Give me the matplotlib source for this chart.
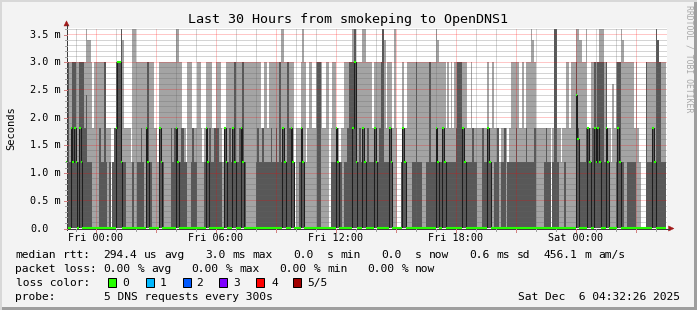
import re
import matplotlib
matplotlib.use("Agg")
import matplotlib.pyplot as plt
import numpy as np
from matplotlib.patches import Rectangle, Polygon
from matplotlib.lines import Line2D

W, H, DPI = 697, 310, 100

# ------------------------------------------------------------------ data
# smoke levels (milliseconds), one char per 5-minute step
LEVELS_MS = {"0": 0.0, "1": 1.2, "2": 1.8, "3": 3.0, "4": 3.4, "5": 3.6,
             "6": 2.4, "7": 2.6}

# upper edge of the dark (inner) smoke band
SMOKE_INNER = "".join([
    "3312331133", "3261110000", "2113101012", "3335110000", "1001121023", "1100002110",
    "0002122112", "2110012110", "0001212112", "2211021121", "2311223100", "0000121121",
    "1112112131", "2113211000", "1210000000", "0330000001", "1121110112", "3335112121",
    "1211121123", "5111210000", "0121000011", "3111001131", "1121112111", "1111233321",
    "1111211000", "2112100112", "0112011111", "2111112111", "1200000121", "1015510001",
    "0000003211", "1122112313", "3331310000", "1331100111", "1100000031", "1121543111",
])
# upper edge of the light (outer) smoke band
SMOKE_OUTER = "".join([
    "3333333333", "3354432333", "3333222012", "3335422221", "5533333333", "3332213333",
    "3333335533", "2213332223", "3212333322", "3332123333", "3333333333", "3333333223",
    "3233333335", "5333333022", "2353123322", "3333223302", "3322122333", "3355333355",
    "3333233333", "5423332520", "0032233333", "3333333333", "3354333323", "2323333333",
    "3223222222", "2223223222", "1222212333", "3322323335", "4322222222", "2025522122",
    "3323335544", "3352233333", "5553322172", "3335433333", "3232100033", "3333543333",
])
# median rtt (ms) where it is not zero: step index and value
MEDIAN_STEP = [0, 3, 4, 5, 6, 8, 9, 30, 31, 32, 33, 48, 49, 56, 57, 66, 67,
               84, 85, 95, 96, 100, 101, 105, 106, 130, 131, 135, 136, 141, 142,
               162, 163, 172, 173, 174, 178, 179, 185, 186, 194, 195, 202, 203,
               222, 223, 226, 227, 238, 239, 253, 254, 306, 307, 313, 314, 317,
               318, 319, 320, 324, 325, 331, 332, 352, 353]
MEDIAN_MS = [1.2, 1.8, 1.2, 1.8, 1.2, 1.8, 1.2, 1.8, 3.0, 3.0, 1.2, 1.8, 1.2,
             1.8, 1.2, 1.8, 1.2, 1.8, 1.2, 1.8, 1.2, 1.8, 1.2, 1.8, 1.2, 1.8,
             1.2, 1.8, 1.2, 1.8, 1.2, 1.8, 1.2, 1.8, 3.0, 1.2, 1.8, 1.2, 1.8,
             1.2, 1.8, 1.2, 1.8, 1.2, 1.8, 1.2, 1.8, 1.2, 1.8, 1.2, 1.8, 1.2,
             2.4, 1.6, 1.8, 1.2, 1.8, 1.2, 1.8, 1.2, 1.8, 1.2, 1.8, 1.2, 1.8, 1.2]

STEP_H = 5 / 60.0            # one RRD step, hours
FIRST_STEP_H = -1.5          # first step start, hours relative to Fri 00:00
VIEW_START_H = -1.4594       # Thu 22:32:26
VIEW_END_H = 28.5406         # Sat 04:32:26

Y_TICKS = [0.0, 0.5, 1.0, 1.5, 2.0, 2.5, 3.0, 3.5]
Y_TICK_LABELS = ["0.0", "0.5 m", "1.0 m", "1.5 m", "2.0 m", "2.5 m", "3.0 m", "3.5 m"]
X_TICKS = [0, 6, 12, 18, 24]
X_TICK_LABELS = ["Fri 00:00", "Fri 06:00", "Fri 12:00", "Fri 18:00", "Sat 00:00"]

TITLE = "Last 30 Hours from smokeping to OpenDNS1"
LEGEND_RTT = ("median rtt:  294.4 us avg   3.0 ms max   0.0  s min   0.0  s now"
              "   0.6 ms sd  456.1 m am/s")
LEGEND_LOSS = "packet loss: 0.00 % avg   0.00 % max   0.00 % min   0.00 % now"
PROBE_LABEL = "probe:"
PROBE_TEXT = "5 DNS requests every 300s"
STAMP = "Sat Dec  6 04:32:26 2025"
LOSS_LABELS = ["0", "1", "2", "3", "4", "5/5"]
LOSS_COLORS = ["#26ff00", "#00b8ff", "#0059ff", "#7e00ff", "#ff0000", "#a10000"]

# ------------------------------------------------------------------ figure
MONO = "DejaVu Sans Mono"
fig = plt.figure(figsize=(W / DPI, H / DPI), dpi=DPI)
fig.patch.set_facecolor("#f3f3f3")

PL, PR, PT, PB = 66.5, 666.5, 28.0, 228.0
ax = fig.add_axes([PL / W, 1 - PB / H, (PR - PL) / W, (PB - PT) / H])
ax.set_facecolor("white")
ax.set_xlim(VIEW_START_H, VIEW_END_H)
ax.set_ylim(0, 3.61)
for s in ax.spines.values():
    s.set_visible(False)
ax.set_xticks([])
ax.set_yticks([])

inner = np.array([LEVELS_MS[c] for c in SMOKE_INNER])
outer = np.array([LEVELS_MS[c] for c in SMOKE_OUTER])
n = len(outer)
edges = FIRST_STEP_H + np.arange(n + 1) * STEP_H
median = np.zeros(n)
median[np.array(MEDIAN_STEP)] = MEDIAN_MS

ax.stairs(outer, edges, baseline=0, fill=True, color="#a4a4a4", lw=0, zorder=1)
ax.stairs(inner, edges, baseline=0, fill=True, color="#585858", lw=0, zorder=2)

# grid
px = 0.72
RED = (1, 0, 0, 0.22)
GRY = (0.4, 0.4, 0.4, 0.28)
for h in range(-1, 29):
    ax.axvline(h, color=RED if h % 3 == 0 else GRY, lw=px, ls=(0, (1, 1)),
               zorder=4, antialiased=False)
for i in range(1, 37):
    ax.axhline(i / 10, color=RED if i % 5 == 0 else GRY, lw=px, ls=(0, (1, 1)),
               zorder=4, antialiased=False)

# median line
ax.stairs(median, edges, baseline=None, color="#1e1e1e", lw=0.75, zorder=5)
ax.hlines(median, edges[:-1], edges[1:], color=LOSS_COLORS[0], lw=1.5,
          zorder=6, clip_on=False)


def fx(x):
    return x / W


def fy(y):
    return 1 - y / H


# axes lines and arrows
AXC = "#3a3a3a"
ARC = "#a11a1a"
fig.add_artist(Line2D([fx(PL), fx(PL)], [fy(PB + 2), fy(25)], color=AXC, lw=px))
fig.add_artist(Line2D([fx(PL - 3), fx(669)], [fy(PB + 0.5), fy(PB + 0.5)], color=AXC, lw=px))
fig.add_artist(Polygon([[fx(PL - 2.6), fy(26)], [fx(PL + 2.6), fy(26)], [fx(PL), fy(20.8)]],
                       closed=True, transform=fig.transFigure, fc=ARC, ec=ARC, lw=0.3))
fig.add_artist(Polygon([[fx(668.5), fy(PB + 0.5 - 2.6)], [fx(668.5), fy(PB + 0.5 + 2.6)],
                        [fx(674), fy(PB + 0.5)]],
                       closed=True, transform=fig.transFigure, fc=ARC, ec=ARC, lw=0.3))


def x_of(h):
    return PL + (h - VIEW_START_H) / (VIEW_END_H - VIEW_START_H) * (PR - PL)


def y_of(v):
    return PB - v / 3.61 * (PB - PT)


# small ticks
for i in range(0, 37):
    yy = y_of(i / 10) + 0.5
    if i % 5 == 0:
        fig.add_artist(Line2D([fx(PL - 3), fx(PL)], [fy(yy), fy(yy)], color="#d08080", lw=px))
    else:
        fig.add_artist(Line2D([fx(PL - 2), fx(PL)], [fy(yy), fy(yy)], color="#a0a0a0", lw=px))
for h in range(-1, 29):
    xx = x_of(h)
    if h % 3 == 0:
        fig.add_artist(Line2D([fx(xx), fx(xx)], [fy(PB + 1), fy(PB + 4)], color="#d08080", lw=px))
    else:
        fig.add_artist(Line2D([fx(xx), fx(xx)], [fy(PB + 1), fy(PB + 3)], color="#a0a0a0", lw=px))

# tick labels
for v, lab in zip(Y_TICKS, Y_TICK_LABELS):
    fig.text(fx(30.0), fy(y_of(v) + 3.6), lab, family=MONO, fontsize=7.3,
             ha="left", va="baseline", color="#000000")
for h, lab in zip(X_TICKS, X_TICK_LABELS):
    fig.text(fx(x_of(h) + 0.3), fy(241.2), lab, family=MONO, fontsize=7.3,
             ha="center", va="baseline", color="#000000")

# titles
fig.text(fx(348), fy(23.3), TITLE, family=MONO, fontsize=9.6, ha="center",
         va="baseline", color="#000000")
fig.text(fx(11.5), fy(128.5), "Seconds", family=MONO, fontsize=7.5, rotation=90,
         ha="center", va="center", color="#000000")
fig.text(fx(689), fy(59), "RRDTOOL / TOBI OETIKER", family=MONO, fontsize=5.9,
         rotation=270, ha="center", va="center", color="#a8a8a8")

# legend: each word placed on the monospace character grid
LF = 8.1
CELL = 0.602 * LF * DPI / 72.0
X0 = 15.5


def grid_line(text, y):
    for m in re.finditer(r"\S+", text):
        fig.text(fx(X0 + m.start() * CELL), fy(y), m.group(), family=MONO,
                 fontsize=LF, ha="left", va="baseline", color="#000000")


grid_line(LEGEND_RTT, 258.3)
grid_line(LEGEND_LOSS, 272.0)
fig.text(fx(X0), fy(286.0), "loss color:", family=MONO, fontsize=LF, ha="left", va="baseline")
box_x = [108.3, 145.6, 182.6, 219.3, 256.0, 292.6]
lab_x = [122.6, 160.0, 196.6, 233.6, 271.0, 307.6]
for bx, lx, c, lab in zip(box_x, lab_x, LOSS_COLORS, LOSS_LABELS):
    fig.add_artist(Rectangle((fx(bx), fy(286.7)), 8 / W, 8.4 / H, transform=fig.transFigure,
                             fc=c, ec="black", lw=px))
    fig.text(fx(lx), fy(286.0), lab, family=MONO, fontsize=LF, ha="left", va="baseline")
fig.text(fx(X0), fy(299.5), PROBE_LABEL, family=MONO, fontsize=LF, ha="left", va="baseline")
fig.text(fx(X0 + 13 * CELL), fy(299.5), PROBE_TEXT, family=MONO, fontsize=LF,
         ha="left", va="baseline")
fig.text(fx(680.5), fy(299.5), STAMP, family=MONO, fontsize=LF, ha="right", va="baseline")

# frame
fig.add_artist(Rectangle((fx(694), 0), 3 / W, 1, transform=fig.transFigure,
                         fc="#9e9e9e", ec="none"))
fig.add_artist(Rectangle((0, 0), 1, 3 / H, transform=fig.transFigure,
                         fc="#9e9e9e", ec="none"))
fig.add_artist(Rectangle((0, 0), 1.5 / W, 1, transform=fig.transFigure,
                         fc="#d8d8d8", ec="none"))
fig.add_artist(Rectangle((0, fy(1.5)), 1, 1.5 / H, transform=fig.transFigure,
                         fc="#d8d8d8", ec="none"))

fig.savefig("out.png", dpi=DPI, facecolor=fig.get_facecolor())
